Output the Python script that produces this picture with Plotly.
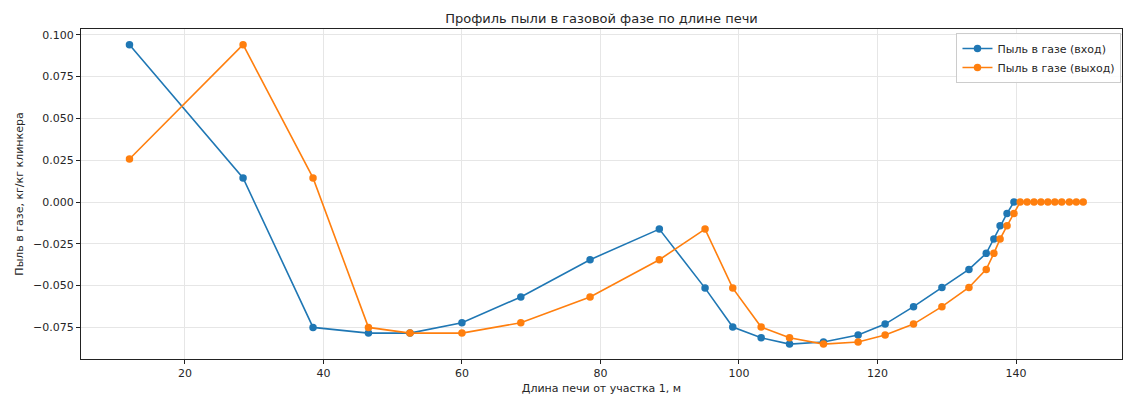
import plotly.graph_objects as go

# Data
x_in = [12.0, 28.4, 38.5, 46.5, 52.5, 60.0, 68.5, 78.5, 88.5, 95.1, 99.1, 103.2,
        107.3, 112.2, 117.2, 121.1, 125.2, 129.3, 133.2, 135.7, 136.8, 137.7, 138.7, 139.7]
y_in = [0.0941, 0.0144, -0.0750, -0.0784, -0.0784, -0.0722, -0.0568, -0.0345, -0.0162,
        -0.0515, -0.0748, -0.0812, -0.0850, -0.0837, -0.0795, -0.0730, -0.0626, -0.0511,
        -0.0403, -0.0307, -0.0221, -0.0142, -0.0068, 0.0]

x_out = [12.0, 28.4, 38.5, 46.5, 52.5, 60.0, 68.5, 78.5, 88.5, 95.1, 99.1, 103.2,
         107.3, 112.2, 117.2, 121.1, 125.2, 129.3, 133.2, 135.7, 136.8, 137.7, 138.7, 139.7,
         140.6, 141.6, 142.6, 143.6, 144.6, 145.6, 146.6, 147.7, 148.7, 149.7]
y_out = [0.0257, 0.0941, 0.0144, -0.0750, -0.0784, -0.0784, -0.0722, -0.0568, -0.0345,
         -0.0162, -0.0515, -0.0748, -0.0812, -0.0850, -0.0837, -0.0795, -0.0730, -0.0626,
         -0.0511, -0.0403, -0.0307, -0.0221, -0.0142, -0.0068,
         0.0, 0.0, 0.0, 0.0, 0.0, 0.0, 0.0, 0.0, 0.0, 0.0]

name_in = "Пыль в газе (вход)"
name_out = "Пыль в газе (выход)"
title = "Профиль пыли в газовой фазе по длине печи"
x_title = "Длина печи от участка 1, м"
y_title = "Пыль в газе, кг/кг клинкера"
x_ticks = [20, 40, 60, 80, 100, 120, 140]
y_ticks = [-0.075, -0.050, -0.025, 0.000, 0.025, 0.050, 0.075, 0.100]

FONT = "DejaVu Sans"
TXT = "#262626"

fig = go.Figure()
fig.add_trace(go.Scatter(x=x_in, y=y_in, mode="lines+markers", name=name_in,
                         line=dict(color="#1f77b4", width=1.6),
                         marker=dict(color="#1f77b4", size=7.5)))
fig.add_trace(go.Scatter(x=x_out, y=y_out, mode="lines+markers", name=name_out,
                         line=dict(color="#ff7f0e", width=1.6),
                         marker=dict(color="#ff7f0e", size=7.5)))

axis_common = dict(showline=True, mirror=True, linecolor="#222", linewidth=1,
                   showgrid=True, gridcolor="#e6e6e6", gridwidth=1,
                   ticks="outside", ticklen=4, tickcolor="#222", zeroline=False,
                   tickfont=dict(family=FONT, size=11, color=TXT))

fig.update_layout(
    width=1124, height=397,
    margin=dict(l=81, r=2, t=29, b=38),
    paper_bgcolor="white", plot_bgcolor="white",
    font=dict(family=FONT, size=11, color=TXT),
    title=dict(text=title, x=0.5, xref="paper", y=1 - 18 / 397, yref="container",
               yanchor="middle", xanchor="center",
               font=dict(family=FONT, size=13, color=TXT)),
    showlegend=True,
    legend=dict(x=0.9995, y=0.988, xanchor="right", yanchor="top",
                bgcolor="rgba(255,255,255,0.85)", bordercolor="#cccccc", borderwidth=1,
                font=dict(family=FONT, size=11, color=TXT),
                tracegroupgap=0, itemwidth=30),
)
fig.update_xaxes(range=[5.0, 155.3], tickvals=x_ticks,
                 title=dict(text=x_title, standoff=5, font=dict(family=FONT, size=11, color=TXT)),
                 **axis_common)
fig.update_yaxes(range=[-0.0939, 0.1035], tickvals=y_ticks, tickformat=".3f",
                 title=dict(text=y_title, standoff=7, font=dict(family=FONT, size=11, color=TXT)),
                 **axis_common)

fig.write_html("out.html")
